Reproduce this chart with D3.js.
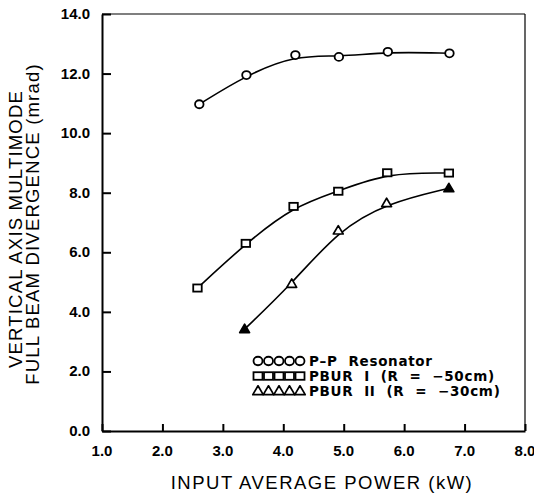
<!DOCTYPE html>
<html>
<head>
<meta charset="utf-8">
<script src="https://cdn.jsdelivr.net/npm/d3@7"></script>
<style>
  body { margin: 0; background: #fff; }
  svg { font-family: "Liberation Sans", Arial, sans-serif; }
  .tick-label { font-size: 15px; font-weight: bold; }
  .axis-text { font-size: 18.5px; }
  .legend-text { font-family: "DejaVu Sans", sans-serif; font-size: 13.5px; font-weight: bold; letter-spacing: 0.7px; }
</style>
</head>
<body>
<svg id="chart"></svg>
<script>
// Series (x = input average power in kW, y = divergence in mrad)
var ppPower = [2.61, 3.39, 4.20, 4.92, 5.73, 6.75];
var ppDiv = [10.97, 11.95, 12.62, 12.56, 12.73, 12.68];

var pbur1Power = [2.58, 3.38, 4.17, 4.91, 5.72, 6.74];
var pbur1Div = [4.80, 6.30, 7.54, 8.05, 8.67, 8.66];

var pbur2Power = [3.36, 4.14, 4.91, 5.71, 6.74];
var pbur2Div = [3.42, 4.94, 6.73, 7.65, 8.15];

var xTicks = [1, 2, 3, 4, 5, 6, 7, 8];
var yTicks = [0, 2, 4, 6, 8, 10, 12, 14];

var legendLabels = ["P\u2013P  Resonator", "PBUR  I  (R  =  \u221250cm)", "PBUR  II  (R  =  \u221230cm)"];

var margin = { top: 14, right: 9, bottom: 69, left: 102 },
    width = 534 - margin.left - margin.right,
    height = 500 - margin.top - margin.bottom;

var svg = d3.select("#chart")
    .attr("width", 534)
    .attr("height", 500)
    .append("g")
    .attr("transform", "translate(" + margin.left + "," + margin.top + ")");

var x = d3.scaleLinear().domain([1, 8]).range([0, width]);
var y = d3.scaleLinear().domain([0, 14]).range([height, 0]);

// frame: top and right are thin
svg.append("line").attr("x1", 0).attr("x2", width).attr("y1", 0).attr("y2", 0)
    .attr("stroke", "#000").attr("stroke-width", 1.2);
svg.append("line").attr("x1", width).attr("x2", width).attr("y1", 0).attr("y2", height)
    .attr("stroke", "#000").attr("stroke-width", 1.2);

// bottom axis, ticks pointing inward
var xAxis = svg.append("g")
    .attr("transform", "translate(0," + height + ")")
    .call(d3.axisBottom(x).tickValues(xTicks).tickSize(-7).tickSizeOuter(0).tickFormat(""));
xAxis.select(".domain").attr("stroke-width", 2);
xAxis.selectAll(".tick line").attr("stroke-width", 2);

// left axis, ticks pointing inward
var yAxis = svg.append("g")
    .call(d3.axisLeft(y).tickValues(yTicks).tickSize(-9).tickSizeOuter(0).tickFormat(""));
yAxis.select(".domain").attr("stroke-width", 2);
yAxis.selectAll(".tick line").attr("stroke-width", 2);

// tick labels
svg.selectAll(".xlab")
    .data(xTicks)
    .enter().append("text")
    .attr("class", "tick-label")
    .attr("text-anchor", "middle")
    .attr("x", d => x(d))
    .attr("y", height + 25)
    .text(d => d.toFixed(1));

svg.selectAll(".ylab")
    .data(yTicks)
    .enter().append("text")
    .attr("class", "tick-label")
    .attr("text-anchor", "end")
    .attr("x", -12)
    .attr("y", d => y(d) + 5)
    .text(d => d.toFixed(1));

// curves
var series = [
    { xs: ppPower, ys: ppDiv, sym: "circle" },
    { xs: pbur1Power, ys: pbur1Div, sym: "square" },
    { xs: pbur2Power, ys: pbur2Div, sym: "triangle" }
];

var line = d3.line()
    .x(d => x(d[0]))
    .y(d => y(d[1]))
    .curve(d3.curveBasis);

function drawMarker(g, sym, cx, cy, size, filled) {
    var fill = filled ? "#000" : "#fff";
    if (sym === "circle") {
        g.append("ellipse").attr("cx", cx).attr("cy", cy).attr("rx", size * 0.5).attr("ry", size * 0.47)
            .attr("fill", fill).attr("stroke", "#000").attr("stroke-width", 1.8);
    } else if (sym === "square") {
        g.append("rect").attr("x", cx - size * 0.5).attr("y", cy - size * 0.42)
            .attr("width", size).attr("height", size * 0.84)
            .attr("fill", fill).attr("stroke", "#000").attr("stroke-width", 1.8);
    } else {
        var s = size * 0.58;
        g.append("path")
            .attr("d", "M" + cx + "," + (cy - s) + "L" + (cx + s) + "," + (cy + s * 0.7) + "L" + (cx - s) + "," + (cy + s * 0.7) + "Z")
            .attr("fill", fill).attr("stroke", "#000").attr("stroke-width", 1.7)
            .attr("stroke-linejoin", "round");
    }
}

series.forEach(function (s) {
    var pts = s.xs.map((v, i) => [v, s.ys[i]]);
    svg.append("path")
        .datum(pts)
        .attr("fill", "none")
        .attr("stroke", "#000")
        .attr("stroke-width", 1.6)
        .attr("d", line);
    var g = svg.append("g");
    pts.forEach(function (p, i) {
        // end triangles print solid in the original
        var solid = s.sym === "triangle" && (i === 0 || i === pts.length - 1);
        drawMarker(g, s.sym, x(p[0]), y(p[1]), 8.5, solid);
    });
});

// legend
var legendRows = [361, 376, 391];
var legend = svg.append("g");
series.forEach(function (s, i) {
    var ly = legendRows[i] - margin.top;
    for (var k = 0; k < 5; k++) {
        drawMarker(legend, s.sym, 258 - margin.left + k * 10.5, ly, 9, false);
    }
    legend.append("text")
        .attr("class", "legend-text")
        .attr("x", 309 - margin.left)
        .attr("y", ly + 5)
        .attr("xml:space", "preserve")
        .style("white-space", "pre")
        .text(legendLabels[i]);
});

// x axis label
svg.append("text")
    .attr("class", "axis-text")
    .attr("text-anchor", "middle")
    .style("letter-spacing", "1.5px")
    .attr("x", 322 - margin.left)
    .attr("y", 489 - margin.top)
    .text("INPUT  AVERAGE  POWER  (kW)");

// y axis labels (two lines)
svg.append("text")
    .attr("class", "axis-text")
    .attr("text-anchor", "middle")
    .style("letter-spacing", "1.2px")
    .attr("transform", "rotate(-90)")
    .attr("x", -(229 - margin.top))
    .attr("y", 22 - margin.left)
    .text("VERTICAL  AXIS  MULTIMODE");

svg.append("text")
    .attr("class", "axis-text")
    .attr("text-anchor", "middle")
    .style("letter-spacing", "1.2px")
    .attr("transform", "rotate(-90)")
    .attr("x", -(224 - margin.top))
    .attr("y", 39 - margin.left)
    .text("FULL  BEAM  DIVERGENCE  (mrad)");
</script>
</body>
</html>
